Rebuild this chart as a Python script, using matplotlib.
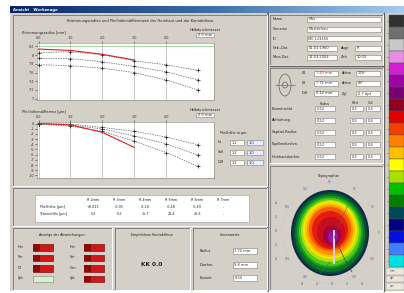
import matplotlib
matplotlib.use('Agg')
import matplotlib.pyplot as plt
from matplotlib.patches import Rectangle, Ellipse
import numpy as np

# ---- chart data ----
x_pos = [0, 1, 2, 3, 4, 5]
top_ticks = ['0.0', '1.0', '2.0', '3.0', '4.0']

upper_red = [8.14, 8.11, 8.02, 7.89]
upper_s2 = [8.06, 8.08, 8.01, 7.87, 7.78, 7.65]
upper_s3 = [7.93, 7.92, 7.85, 7.74, 7.62, 7.43]
upper_s4 = [7.78, 7.76, 7.70, 7.60, 7.43, 7.20]
upper_yticks = [8.2, 8.0, 7.8, 7.6, 7.4, 7.2, 7.0]

lower_red = [0.0, -0.25, -1.7, -4.6]
lower_s2 = [0.0, -0.1, -0.75, -1.5, -2.6, -4.1]
lower_s3 = [-0.05, -0.3, -1.05, -2.4, -3.9, -6.1]
lower_s4 = [-0.1, -0.5, -1.5, -3.4, -5.6, -8.25]
lower_yticks = [0, -1, -2, -3, -4, -5, -6, -7, -8, -9, -10]

table_cols = ['R 2mm', 'R 3mm', 'R 4mm', 'R 5mm', 'R 6mm', 'R 7mm']
table_rows = ['Pfeilhöhe [µm]', 'Tränenfilm [µm]']
table_vals = [['+0.013', '-0.05', '-0.20', '-0.48', '-0.49', '-'],
              ['5.2', '6.2', '15.7', '21.4', '26.6', '-']]

info_labels = ['Name', 'Vorname', 'ID', 'Geb.-Dat.', 'Mess-Dat.']
info_values = ['Mus', 'Musterfrau', 'M0 123456', '01.01.1960', '12.03.2004']
k_labels = ['K1', 'K2', 'Diff']
k_values = ['7.83 mm', '7.71 mm', '0.12 mm']
k_colors = ['#d02020', '#2040d0', '#202020']
k_right = ['Achse', 'Achse', 'Zyl']
k_right_vals = ['178°', '88°', '0.7 dpt']
low_labels = ['Exzentrizität', 'Abflachung', 'Sagittal-Radius', 'Pupillendurchm.', 'Hornhautdurchm.']

led_left = ['Hor', 'Ver', 'Dl', 'Upt']
led_right = ['Hor', 'Ver', 'Cen', 'Upt']
lens_labels = ['Radius', 'Durchm.', 'Exzentr.']
lens_values = ['7.70 mm', '9.8 mm', '0.50']

# topography rings, outer to inner
ring_rx = [39, 37, 35, 33, 31, 29, 27, 25, 23, 21, 18, 14, 9, 5]
ring_ry = [43, 41, 39, 36, 34, 31, 29, 27, 25, 22, 19, 15, 10, 6]
ring_dy = [0, 0, 0, -1, -1, -2, -3, -3, -3, -4, -3, -1, 2, 4]
ring_dx = [0, 0, 0, 0, 0, 0, 0, 0, 0, 0, 0, 1, 2, 3]
ring_colors = ['#0c2a48', '#0a4a34', '#0a7424', '#10a420', '#50c818', '#b0e010',
               '#f0e800', '#ffc400', '#ff9400', '#f45c00', '#e41c10', '#c80c1c',
               '#a4003c', '#9414b4']
angle_labels = [0, 30, 60, 90, 120, 150, 210, 240, 300, 330]

cbar_colors = ['#303030', '#707070', '#c8c8c8', '#e88ce8', '#d020d0', '#a000a8',
               '#780070', '#900020', '#e00000', '#f04000', '#ff8000', '#ffc000',
               '#ffff00', '#a8e000', '#00c000', '#008000', '#004858', '#000080',
               '#0010e0', '#4080ff', '#00e0e0']

BG = '#d4d0c8'

fig = plt.figure(figsize=(4.04, 2.93), dpi=100)
ax = fig.add_axes([0, 0, 1, 1])
ax.set_xlim(0, 404)
ax.set_ylim(293, 0)
ax.axis('off')


def rect(x, y, w, h, fc, ec='none', lw=0.5, z=1):
    ax.add_patch(Rectangle((x, y), w, h, facecolor=fc, edgecolor=ec, linewidth=lw, zorder=z))


def panel(x, y, w, h):
    ax.plot([x, x + w], [y, y], color='#808080', lw=0.7, zorder=2)
    ax.plot([x, x], [y, y + h], color='#808080', lw=0.7, zorder=2)
    ax.plot([x, x + w], [y + h, y + h], color='white', lw=0.7, zorder=2)
    ax.plot([x + w, x + w], [y, y + h], color='white', lw=0.7, zorder=2)


def field(x, y, w, h, fc='white', s='', color='#303030'):
    rect(x, y, w, h, fc, ec='#808080', lw=0.4, z=3)
    if s:
        ax.text(x + 1.5, y + h / 2, s, fontsize=2.6, color=color, va='center', zorder=4)


def txt(x, y, s, size=2.8, **kw):
    kw.setdefault('color', '#202020')
    ax.text(x, y, s, fontsize=size, va='center', zorder=4, **kw)


# background / window
rect(10, 6, 394, 285, BG)
grad = np.linspace(0, 1, 200).reshape(1, -1)
ax.imshow(grad, extent=(10, 404, 13, 6), aspect='auto', zorder=2,
          cmap=matplotlib.colors.LinearSegmentedColormap.from_list('tb', ['#0a246a', '#3a6ea5', '#a6caf0']))
txt(13, 9.5, 'Ansicht   Werkzeuge', size=2.8, color='white', weight='bold')
ax.plot([268, 268], [13, 291], color='#606060', lw=1.2, zorder=2)
ax.plot([384, 384], [13, 291], color='#606060', lw=1.0, zorder=2)

# ---- chart panel ----
panel(13, 15, 254, 171)
txt(140, 21, 'Krümmungsradien und Pfeilhöhendifferenzen der Hornhaut und der Kontaktlinse',
    size=2.6, ha='center')


def line_chart(x0, y0, w, h, series, red, yticks, ylim):
    cax = fig.add_axes([x0 / 404, 1 - (y0 + h) / 293, w / 404, h / 293])
    cax.set_facecolor('white')
    for xv in x_pos[:5]:
        cax.axvline(xv, color='#a0a0a0', lw=0.4, zorder=1)
    for s in series:
        cax.plot(x_pos[:len(s)], s, color='#606060', lw=0.5, ls=(0, (2, 1.5)),
                 marker='+', ms=2.2, mew=0.5, mec='#202020', zorder=2)
    cax.plot(x_pos[:len(red)], red, color='#e02020', lw=0.8, zorder=3)
    cax.set_xlim(-0.05, 5.5)
    cax.set_ylim(*ylim)
    cax.set_yticks(yticks)
    cax.set_yticklabels([f'{v:g}' for v in yticks])
    cax.set_xticks(x_pos[:5])
    cax.set_xticklabels(top_ticks)
    cax.xaxis.tick_top()
    cax.tick_params(labelsize=2.4, length=1.2, width=0.4, pad=0.8, colors='#303030')
    for sp in cax.spines.values():
        sp.set_linewidth(0.4)
        sp.set_color('#808080')
    return cax


up = line_chart(37, 43, 177, 57, [upper_s2, upper_s3, upper_s4], upper_red,
                upper_yticks, (6.97, 8.28))
up.axhline(8.2, color='#80d080', lw=0.5, zorder=1)
txt(22, 33, 'Krümmungsradius [mm]', size=2.5)
txt(190, 30, 'Halbdurchmesser', size=2.5)
field(196, 33, 18, 4, s='0.0 mm')

lo = line_chart(37, 122, 177, 56, [lower_s2, lower_s3, lower_s4], lower_red,
                lower_yticks, (-10.5, 0.3))
txt(22, 112, 'Pfeilhöhendifferenz [µm]', size=2.5)
txt(190, 110, 'Halbdurchmesser', size=2.5)
field(196, 113, 18, 4, s='0.0 mm')

# input boxes right of the lower chart
txt(220, 133, 'Pfeilhöhe in µm', size=2.4)
for i, lab in enumerate(['Ist', 'Soll', 'Diff']):
    yy = 140 + i * 10
    txt(218, yy + 2, lab, size=2.4)
    field(230, yy, 14, 5, fc='#fffff0', s='1.2')
    field(247, yy, 16, 5, fc='#e8eeff', s='1.0')

# ---- table panel ----
panel(13, 188, 254, 38)
rect(35, 195, 214, 27, 'white', ec='#a0a0a0', lw=0.4, z=2)
for j, c in enumerate(table_cols):
    cx = 93 + j * 26
    txt(cx, 200, c, size=2.4, ha='center')
    for i in range(2):
        txt(cx, 207 + i * 7, table_vals[i][j], size=2.4, ha='center')
for i, r in enumerate(table_rows):
    txt(40, 207 + i * 7, r, size=2.4)

# ---- bottom panels ----
panel(13, 228, 99, 62)
panel(115, 228, 75, 62)
panel(193, 228, 74, 62)
txt(62, 235, 'Anzeige der Abweichungen', size=2.4, ha='center')
for i in range(4):
    yy = 244 + i * 10.5
    txt(18, yy + 3, led_left[i], size=2.4)
    txt(70, yy + 3, led_right[i], size=2.4)
    if i == 3:
        rect(33, yy, 20, 6.5, '#d8f0d0', ec='#808080', lw=0.4, z=3)
    else:
        rect(33, yy, 20, 6.5, '#d01818', ec='#600000', lw=0.4, z=3)
        rect(33, yy, 7, 6.5, '#8a0a0a', z=3)
    rect(84, yy, 20, 6.5, '#d01818', ec='#600000', lw=0.4, z=3)
    rect(84, yy, 7, 6.5, '#8a0a0a', z=3)
txt(152, 235, 'Empfohlene Kontaktlinse', size=2.4, ha='center')
txt(152, 265, 'KK 0.0', size=4.2, ha='center', weight='bold')
txt(230, 235, 'Linsenwerte', size=2.4, ha='center')
for i, lab in enumerate(lens_labels):
    yy = 248 + i * 13.5
    txt(200, yy + 3, lab, size=2.4)
    field(233, yy, 24, 6, s=lens_values[i])

# ---- right panel ----
panel(270, 15, 113, 50)
for i, lab in enumerate(info_labels):
    yy = 17 + i * 9.5
    txt(273, yy + 2.5, lab, size=2.4)
    if i < 3:
        field(307, yy, 74, 5, s=info_values[i])
    else:
        field(307, yy, 30, 5, s=info_values[i])
        txt(341, yy + 2.5, 'Auge' if i == 3 else 'Zeit', size=2.4)
        field(355, yy, 26, 5, s='R' if i == 3 else '10:15')
ax.plot([270, 383], [66, 66], color='#606060', lw=1.0, zorder=2)

panel(270, 68, 113, 95)
# eye sketch
ax.add_patch(Ellipse((285, 85), 12, 22, fill=False, ec='#606060', lw=0.5, zorder=3))
ax.add_patch(Ellipse((285, 85), 5, 6, fill=False, ec='#606060', lw=0.5, zorder=3))
ax.plot([275, 295], [85, 85], color='#606060', lw=0.4, zorder=3)
for i in range(3):
    yy = 71 + i * 10
    txt(302, yy + 2.5, k_labels[i], size=2.4)
    field(314, yy, 24, 5, s=k_values[i], color=k_colors[i])
    txt(342, yy + 2.5, k_right[i], size=2.4)
    field(356, yy, 24, 5, s=k_right_vals[i])
txt(320, 104, 'Radius', size=2.2)
txt(352, 103, 'Wert', size=2.2)
txt(368, 103, 'Soll', size=2.2)
for i, lab in enumerate(low_labels):
    yy = 106 + i * 12
    txt(272, yy + 2.5, lab, size=2.4)
    field(315, yy, 20, 5, s='0.52')
    field(350, yy, 13, 5, s='0.5')
    field(366, yy, 14, 5, s='0.4')

# ---- topography ----
panel(270, 166, 113, 124)
txt(328, 176, 'Topographie', size=2.5, ha='center')
cx, cy = 330, 233
ax.add_patch(Ellipse((cx, cy), 96, 100, fill=False, ec='#b8c4e0', lw=0.6, ls=':', zorder=2))
for rx, ry, dx, dy, col in zip(ring_rx, ring_ry, ring_dx, ring_dy, ring_colors):
    ax.add_patch(Ellipse((cx + dx, cy + dy), 2 * rx, 2 * ry, fc=col, ec='none', zorder=3))
rect(332.5, 230, 2.5, 34, '#e8c8e8', z=4)
ax.plot([334, 346, 352], [236, 262, 272], color='#404040', lw=0.5, zorder=5)
ax.plot([336, 348], [232, 205], color='#606060', lw=0.4, zorder=5)
ax.plot([320, 330], [273, 262], color='#606060', lw=0.4, zorder=5)
for ang in angle_labels:
    a = np.deg2rad(ang)
    ax.text(cx + 49 * np.cos(a), cy - 51 * np.sin(a), str(ang), fontsize=2.0,
            color='#6070a0', ha='center', va='center', zorder=4)
for i, v in enumerate(['-4', '-2', '0', '2', '4']):
    txt(302 + i * 15, 284, v, size=2.2, ha='center', color='#505050')
    txt(276, 203 + i * 14, v, size=2.2, ha='center', color='#505050')

# ---- color scale ----
n = len(cbar_colors)
tile = 252 / n
for i, col in enumerate(cbar_colors):
    yy = 15 + i * tile
    rect(389, yy, 15, tile, col, ec='#505050', lw=0.3, z=2)
    txt(386.5, yy + tile / 2, f'{9.5 - i * 0.25:.1f}', size=1.6, color='#606060')
for i in range(3):
    rect(386, 268 + i * 7.5, 18, 6.5, '#ece6da', ec='#909090', lw=0.3, z=2)
    txt(390, 271 + i * 7.5, ['mm', 'dpt', 'µm'][i], size=2.0, color='#606060')

fig.savefig('out.png', dpi=100, facecolor='white')
